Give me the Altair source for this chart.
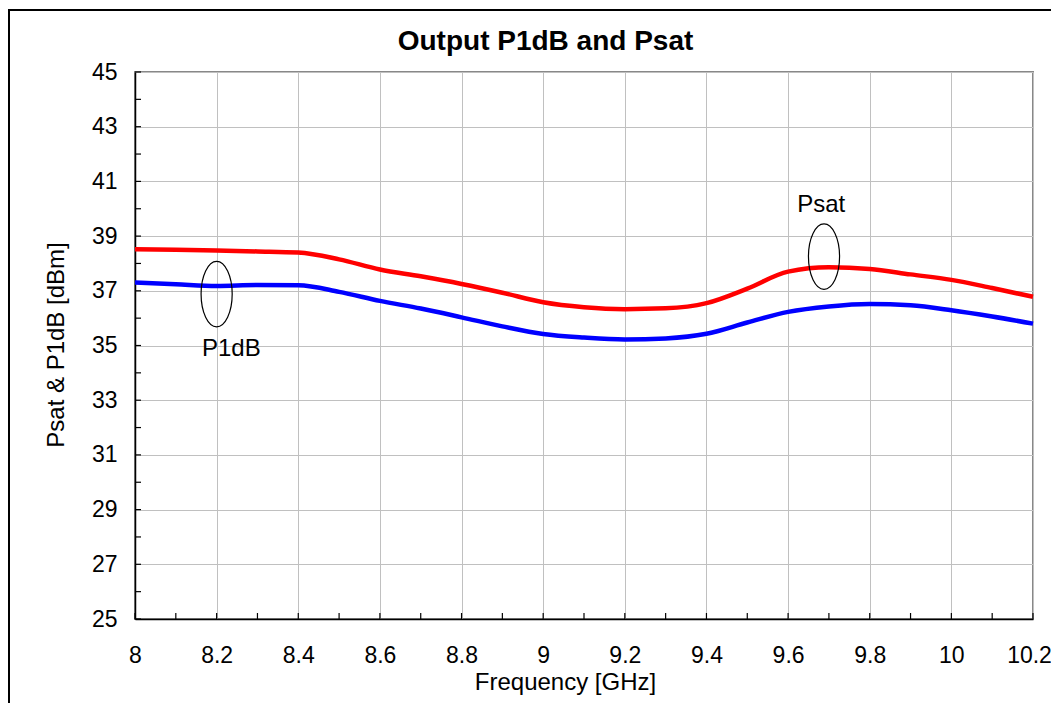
import altair as alt
import pandas as pd

# ---- data ----
freq = [8.0, 8.1, 8.2, 8.3, 8.4, 8.5, 8.6, 8.7, 8.8, 8.9, 9.0, 9.1,
        9.2, 9.3, 9.4, 9.5, 9.6, 9.7, 9.8, 9.9, 10.0, 10.1, 10.2]
psat = [38.52, 38.50, 38.47, 38.44, 38.40, 38.15, 37.78, 37.53, 37.25, 36.93, 36.58, 36.40,
        36.33, 36.36, 36.55, 37.08, 37.70, 37.86, 37.80, 37.60, 37.40, 37.10, 36.78]
p1db = [37.30, 37.24, 37.18, 37.21, 37.20, 36.96, 36.63, 36.35, 36.03, 35.70, 35.42, 35.29,
        35.22, 35.26, 35.43, 35.84, 36.23, 36.43, 36.52, 36.47, 36.29, 36.06, 35.80]

x_ticks_major = [8.0, 8.2, 8.4, 8.6, 8.8, 9.0, 9.2, 9.4, 9.6, 9.8, 10.0, 10.2]
x_ticks_minor = [8.0, 8.1, 8.2, 8.3, 8.4, 8.5, 8.6, 8.7, 8.8, 8.9, 9.0, 9.1,
                 9.2, 9.3, 9.4, 9.5, 9.6, 9.7, 9.8, 9.9, 10.0, 10.1, 10.2]
y_ticks_major = [25, 27, 29, 31, 33, 35, 37, 39, 41, 43, 45]
y_ticks_minor = list(range(25, 46))

ann_label = ["P1dB", "Psat"]
ann_x = [8.2, 9.688]
ann_y = [36.88, 38.25]
ann_text_x = [8.236, 9.681]
ann_text_y = [34.61, 39.88]

title_text = "Output P1dB and Psat"
x_title = "Frequency [GHz]"
y_title = "Psat & P1dB [dBm]"

W, H = 898, 547
FONT = "Liberation Sans"

df = pd.DataFrame({
    "freq": freq * 2,
    "value": psat + p1db,
    "series": ["Psat"] * len(freq) + ["P1dB"] * len(freq),
})

xs = alt.Scale(domain=[8, 10.2], nice=False, zero=False)
ys = alt.Scale(domain=[25, 45], nice=False, zero=False)

lines = alt.Chart(df).mark_line(strokeWidth=4.5, interpolate="monotone").encode(
    x=alt.X("freq:Q", scale=xs, axis=alt.Axis(
        values=x_ticks_major, format="~g", title=None, grid=True,
        gridColor="#c0c0c0", gridWidth=1, domainColor="black", domainWidth=1.5,
        ticks=False, tickSize=0, labelPadding=25, labelFontSize=23,
        labelOffset={"condition": {"test": "datum.value > 10.15", "value": -4}, "value": 0},
        labelFont=FONT, labelColor="black", labelFlush=False)),
    y=alt.Y("value:Q", scale=ys, axis=alt.Axis(
        values=y_ticks_major, title=None, grid=True,
        gridColor="#c0c0c0", gridWidth=1, domainColor="black", domainWidth=1.5,
        ticks=False, tickSize=0, labelPadding=18, labelFontSize=23,
        labelFont=FONT, labelColor="black", labelFlush=False)),
    color=alt.Color("series:N", scale=alt.Scale(domain=["Psat", "P1dB"],
                                                 range=["#ff0000", "#0000ff"]),
                    legend=None),
    detail="series:N",
)

xt = alt.Chart(pd.DataFrame({"t": x_ticks_minor})).mark_rule(
    color="black", strokeWidth=1.2).encode(
    x=alt.X("t:Q", scale=xs), y=alt.value(H), y2=alt.value(H - 6))

yt = alt.Chart(pd.DataFrame({"t": y_ticks_minor})).mark_rule(
    color="black", strokeWidth=1.2).encode(
    y=alt.Y("t:Q", scale=ys), x=alt.value(0), x2=alt.value(6))

ann = pd.DataFrame({"label": ann_label, "x": ann_x, "y": ann_y,
                    "tx": ann_text_x, "ty": ann_text_y})

ell = alt.Chart(ann).mark_point(
    shape="M0,-1A0.475,1,0,1,1,0,1A0.475,1,0,1,1,0,-1Z",
    filled=False, stroke="black", strokeWidth=1.2, opacity=1).encode(
    x=alt.X("x:Q", scale=xs), y=alt.Y("y:Q", scale=ys), size=alt.value(4290))

ann_txt = alt.Chart(ann).mark_text(
    font=FONT, fontSize=24, color="black", baseline="alphabetic", align="center").encode(
    x=alt.X("tx:Q", scale=xs), y=alt.Y("ty:Q", scale=ys), text="label:N")

txt = pd.DataFrame({"t": [title_text]})
title = alt.Chart(txt).mark_text(
    font=FONT, fontSize=28, fontWeight="bold", color="black",
    baseline="alphabetic", align="center").encode(
    text="t:N", x=alt.value(410.5), y=alt.value(-22))

xtitle = alt.Chart(pd.DataFrame({"t": [x_title]})).mark_text(
    font=FONT, fontSize=24, color="black", baseline="alphabetic", align="center").encode(
    text="t:N", x=alt.value(430.5), y=alt.value(H + 71))

ytitle = alt.Chart(pd.DataFrame({"t": [y_title]})).mark_text(
    font=FONT, fontSize=24, color="black", baseline="middle", align="center",
    angle=270).encode(
    text="t:N", x=alt.value(-78), y=alt.value(273))

frame_l = alt.Chart(pd.DataFrame({"t": [0]})).mark_rule(
    color="black", strokeWidth=2).encode(
    x=alt.value(-126), y=alt.value(-62), y2=alt.value(H + 200))
frame_t = alt.Chart(pd.DataFrame({"t": [0]})).mark_rule(
    color="black", strokeWidth=2).encode(
    y=alt.value(-62), x=alt.value(-127), x2=alt.value(W + 200))

chart = alt.layer(
    lines, xt, yt, ell, ann_txt, title, xtitle, ytitle, frame_l, frame_t
).properties(
    width=W, height=H,
    autosize=alt.AutoSizeParams(type="none"),
    padding={"left": 127, "top": 64, "right": 18, "bottom": 84},
    background="white",
).configure_view(
    stroke="#888888", strokeWidth=2
)

chart.save("out.html", embed_options={"renderer": "svg", "actions": False})
